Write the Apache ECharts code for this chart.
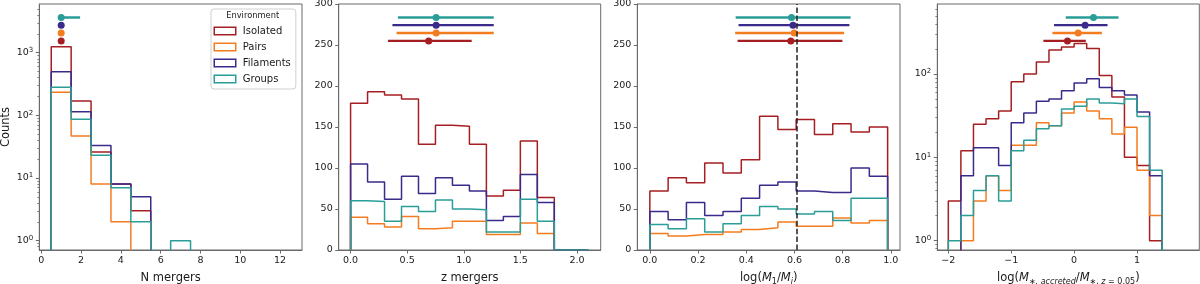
<!DOCTYPE html>
<html><head><meta charset="utf-8">
<script src="https://cdn.jsdelivr.net/npm/echarts@6/dist/echarts.min.js"></script>
<style>html,body{margin:0;padding:0;background:#fff}#c{width:1200px;height:284px}</style>
</head><body><div id="c"></div>
<script>
// ---------------- DATA ----------------
const environments = ['Isolated', 'Pairs', 'Filaments', 'Groups'];

// Panel 1: N mergers (bins of width 1 centred on integers)
const nEdgeStart = 0.5, nBinWidth = 1, nBinCount = 12;
const nIsolated  = [1242, 169, 26, 8, 3, 0, 0, 0, 0, 0, 0, 0];
const nPairs     = [233, 47, 8, 2, 0, 0, 0, 0, 0, 0, 0, 0];
const nFilaments = [496, 114, 33, 8, 5, 0, 0, 0, 0, 0, 0, 0];
const nGroups    = [280, 87, 23, 7, 2, 0, 1, 0, 0, 0, 0, 0];
// [median, low, high]
const nStats = [[1, 1, 1], [1, 1, 1], [1, 1, 1], [1, 1, 1.95]];
const nTicks = [0, 2, 4, 6, 8, 10, 12];

// Panel 2: z mergers
const zEdgeStart = 0, zBinWidth = 0.15, zBinCount = 14;
const zIsolated  = [179, 193, 189, 184, 129, 152, 151, 129, 66, 73, 133, 64, 0, 0];
const zPairs     = [40, 32, 28, 41, 26, 27, 35, 35, 19, 19, 33, 20, 0, 0];
const zFilaments = [105, 83, 62, 90, 69, 88, 79, 72, 36, 41, 92, 58, 0, 0];
const zGroups    = [60, 59, 35, 53, 47, 61, 50, 49, 22, 22, 62, 35, 0, 0];
const zStats = [[0.69, 0.33, 1.07], [0.756, 0.406, 1.265], [0.756, 0.37, 1.265], [0.756, 0.418, 1.265]];
const zTicks = [0, 0.5, 1.0, 1.5, 2.0];

// Panel 3: log(M1/Mi)
const rEdgeStart = 0, rBinWidth = 0.0759, rBinCount = 13;
const rIsolated  = [72, 88, 82, 106, 94, 110, 163, 147, 159, 141, 154, 144, 150];
const rPairs     = [20, 17, 19, 19, 22, 25, 27, 34, 29, 29, 39, 33, 36];
const rFilaments = [47, 37, 58, 42, 47, 63, 79, 83, 72, 70, 70, 100, 90];
const rGroups    = [31, 26, 38, 22, 32, 42, 53, 50, 44, 47, 36, 63, 63];
const rStats = [[0.585, 0.364, 0.799], [0.599, 0.354, 0.806], [0.594, 0.368, 0.828], [0.588, 0.356, 0.833]];
const rThreshold = 0.607;
const rTicks = [0, 0.2, 0.4, 0.6, 0.8, 1.0];

// Panel 4: log(M*,accreted / M*,z=0.05)
const aEdgeStart = -2, aBinWidth = 0.2, aBinCount = 17;
const aIsolated  = [3, 12, 25, 29, 36, 81, 100, 139, 194, 211, 233, 203, 96, 53, 10, 8, 1];
const aPairs     = [0, 1, 3, 6, 4, 14, 14, 26, 24, 34, 46, 36, 29, 19, 23, 7, 2];
const aFilaments = [0, 6, 13, 13, 8, 26, 34, 47, 50, 63, 78, 88, 69, 63, 56, 35, 6];
const aGroups    = [1, 2, 4, 6, 3, 12, 16, 22, 24, 38, 41, 50, 45, 44, 50, 31, 7];
const aStats = [[-0.106, -0.489, 0.186], [0.064, -0.345, 0.441], [0.175, -0.319, 0.531], [0.308, -0.133, 0.706]];
const aTicks = [-2, -1, 0, 1];

const logYTicks1 = [1, 10, 100, 1000];
const logYTicks4 = [1, 10, 100];
const linYTicks = [0, 50, 100, 150, 200, 250, 300];

// ---------------- STYLE / LAYOUT ----------------
const FONT = 'DejaVu Sans';
const TXT = '#1a1a1a';
const SPINE = '#6a6a6a';
const COLORS = ['#a51e22', '#f47c20', '#3a2a8a', '#2a9d98'];
const ERR_LEVELS = [0.850, 0.882, 0.914, 0.945]; // axis fraction per environment

const panels = [
  { grid: {left: 39.3, top: 4, width: 262.7, height: 246}, xMin: -0.1, xMax: 13.1, log: true,
    yMin: Math.pow(10, -0.149), yMax: Math.pow(10, 3.777),
    edges: [nEdgeStart, nBinWidth, nBinCount], counts: [nIsolated, nPairs, nFilaments, nGroups], stats: nStats,
    xTicks: nTicks, yTicks: logYTicks1, xFmt: v => String(v),
    name: '{n|N mergers}' },
  { grid: {left: 338.7, top: 4, width: 262, height: 246}, xMin: -0.105, xMax: 2.21, log: false, yMin: 0, yMax: 300,
    edges: [zEdgeStart, zBinWidth, zBinCount], counts: [zIsolated, zPairs, zFilaments, zGroups], stats: zStats,
    xTicks: zTicks, yTicks: linYTicks, xFmt: v => v.toFixed(1),
    name: '{n|z mergers}' },
  { grid: {left: 637.3, top: 4, width: 262.7, height: 246}, xMin: -0.052, xMax: 1.038, log: false, yMin: 0, yMax: 300,
    edges: [rEdgeStart, rBinWidth, rBinCount], counts: [rIsolated, rPairs, rFilaments, rGroups], stats: rStats,
    xTicks: rTicks, yTicks: linYTicks, xFmt: v => v.toFixed(1),
    name: '{n|log(}{i|M}{sub|1}{n|/}{i|M}{subi|i}{n|)}' },
  { grid: {left: 937.3, top: 4, width: 262, height: 246}, xMin: -2.175, xMax: 1.99, log: true,
    yMin: Math.pow(10, -0.112), yMax: Math.pow(10, 2.84),
    edges: [aEdgeStart, aBinWidth, aBinCount], counts: [aIsolated, aPairs, aFilaments, aGroups], stats: aStats,
    xTicks: aTicks, yTicks: logYTicks4, xFmt: v => (v < 0 ? '\u2212' + Math.abs(v) : String(v)),
    name: '{n|log(}{i|M}{subi|\u2217, accreted}{n|/}{i|M}{sub|\u2217, }{subi|z}{sub| = 0.05}{n|)}' }
];

// ---------------- BUILD ----------------
function makeEdges(start, w, n) {
  const e = [];
  for (let i = 0; i <= n; i++) e.push(+(start + i * w).toFixed(6));
  return e;
}
function stepPoints(edges, counts, floor) {
  const pts = [[edges[0], floor]];
  counts.forEach((c, i) => {
    const v = c > 0 ? c : floor;
    pts.push([edges[i], v]);
    pts.push([edges[i + 1], v]);
  });
  pts.push([edges[edges.length - 1], floor]);
  return pts;
}
function levelValue(p, frac) {
  if (p.log) {
    const a = Math.log10(p.yMin), b = Math.log10(p.yMax);
    return Math.pow(10, a + frac * (b - a));
  }
  return p.yMin + frac * (p.yMax - p.yMin);
}
function minorLogTicks(lo, hi) {
  const out = [];
  for (let e = -2; e <= 4; e++) for (let m = 2; m <= 9; m++) {
    const v = m * Math.pow(10, e);
    if (v > lo && v < hi) out.push(v);
  }
  return out;
}
function supFmt(v) {
  const e = Math.round(Math.log10(v));
  return '{b|10}{s|' + e + '}';
}

const richName = {
  n: {fontSize: 11.5, fontFamily: FONT, color: TXT, lineHeight: 15},
  i: {fontSize: 11.5, fontFamily: FONT, color: TXT, fontStyle: 'italic', lineHeight: 15},
  sub: {fontSize: 8, fontFamily: FONT, color: TXT, lineHeight: 9, verticalAlign: 'bottom'},
  subi: {fontSize: 8, fontFamily: FONT, color: TXT, fontStyle: 'italic', lineHeight: 9, verticalAlign: 'bottom'}
};
const richSup = {
  b: {fontSize: 9.5, fontFamily: FONT, color: TXT, lineHeight: 12},
  s: {fontSize: 7, fontFamily: FONT, color: TXT, lineHeight: 7, verticalAlign: 'top'}
};

const grid = [], xAxis = [], yAxis = [], series = [];
panels.forEach((p, pi) => {
  grid.push(Object.assign({show: true, borderColor: SPINE, borderWidth: 1, backgroundColor: 'transparent',
    containLabel: false, outerBoundsMode: 'none'}, p.grid));
  xAxis.push({
    type: 'value', gridIndex: pi, min: p.xMin, max: p.xMax, position: 'bottom',
    name: p.name, nameLocation: 'middle', nameGap: 15,
    nameTextStyle: {fontSize: 11.5, fontFamily: FONT, color: TXT, lineHeight: 15, rich: richName},
    axisLine: {show: true, onZero: false, lineStyle: {color: SPINE, width: 1}},
    axisTick: {show: true, length: 3.5, lineStyle: {color: SPINE, width: 1}, customValues: p.xTicks},
    axisLabel: {fontSize: 9.5, fontFamily: FONT, color: TXT, margin: 6, customValues: p.xTicks, formatter: p.xFmt},
    splitLine: {show: false}
  });
  yAxis.push({
    type: p.log ? 'log' : 'value', gridIndex: pi, min: p.yMin, max: p.yMax, position: 'left',
    name: pi === 0 ? 'Counts' : '', nameLocation: 'middle', nameGap: 27, nameRotate: 90,
    nameTextStyle: {fontSize: 11.5, fontFamily: FONT, color: TXT},
    axisLine: {show: true, onZero: false, lineStyle: {color: SPINE, width: 1}},
    axisTick: {show: true, length: 3.5, lineStyle: {color: SPINE, width: 1}, customValues: p.yTicks},
    axisLabel: p.log
      ? {customValues: p.yTicks, formatter: supFmt, rich: richSup, margin: 6, color: TXT}
      : {customValues: p.yTicks, fontSize: 9.5, fontFamily: FONT, color: TXT, margin: 6},
    splitLine: {show: false}
  });
});
// minor tick axes for log panels
panels.forEach((p, pi) => {
  if (!p.log) return;
  p.minorAxis = yAxis.length;
  yAxis.push({
    type: 'log', gridIndex: pi, min: p.yMin, max: p.yMax, position: 'left', offset: 0,
    axisLine: {show: false, onZero: false},
    axisTick: {show: true, length: 2, lineStyle: {color: SPINE, width: 0.8}, customValues: minorLogTicks(p.yMin, p.yMax)},
    axisLabel: {show: false}, splitLine: {show: false}
  });
});

panels.forEach((p, pi) => {
  const edges = makeEdges(p.edges[0], p.edges[1], p.edges[2]);
  const floor = p.log ? 1e-4 : 0;
  p.counts.forEach((counts, k) => {
    series.push({
      type: 'line', name: environments[k], xAxisIndex: pi, yAxisIndex: pi,
      data: stepPoints(edges, counts, floor), symbol: 'none', showSymbol: false, clip: true,
      lineStyle: {color: COLORS[k], width: 1.5}, itemStyle: {color: COLORS[k]},
      z: 2, silent: true, animation: false
    });
  });
  p.stats.forEach((s, k) => {
    const y = levelValue(p, ERR_LEVELS[k]);
    series.push({
      type: 'line', name: environments[k], xAxisIndex: pi, yAxisIndex: pi,
      data: [[s[1], y], [s[2], y]], symbol: 'none', showSymbol: false,
      lineStyle: {color: COLORS[k], width: 2.4}, itemStyle: {color: COLORS[k]},
      z: 3, silent: true, animation: false
    });
    series.push({
      type: 'scatter', name: environments[k], xAxisIndex: pi, yAxisIndex: pi,
      data: [[s[0], y]], symbol: 'circle', symbolSize: 7,
      itemStyle: {color: COLORS[k], opacity: 1}, z: 4, silent: true, animation: false
    });
  });
  if (pi === 2) {
    series.push({
      type: 'scatter', name: 'threshold', xAxisIndex: pi, yAxisIndex: pi, data: [], z: 5, silent: true,
      markLine: {
        silent: true, symbol: ['none', 'none'], animation: false, label: {show: false},
        lineStyle: {color: '#222', width: 1.5, type: [5.5, 2.4]},
        data: [{xAxis: rThreshold}]
      }
    });
  }
});

const chart = echarts.init(document.getElementById('c'), null, {renderer: 'canvas'});
chart.setOption({
  animation: false,
  backgroundColor: '#fff',
  grid, xAxis, yAxis, series,
  legend: {
    selectedMode: false, orient: 'vertical', left: 211, top: 9,
    padding: [16, 5, 4, 2.5], itemWidth: 21.5, itemHeight: 7.5, itemGap: 4,
    backgroundColor: '#fff', borderColor: '#d0d0d0', borderWidth: 1, borderRadius: 3,
    textStyle: {fontSize: 10, fontFamily: FONT, color: TXT, lineHeight: 12, padding: [0, 0, 0, 2]},
    data: environments.map((n, i) => ({
      name: n, icon: 'rect',
      itemStyle: {color: 'rgba(0,0,0,0)', borderColor: COLORS[i], borderWidth: 1.5}
    }))
  },
  graphic: [{
    type: 'text', x: 252.7, y: 16, z: 100,
    style: {text: 'Environment', fontSize: 8.3, fontFamily: FONT, fill: TXT, align: 'center', verticalAlign: 'middle'}
  }]
});
</script></body></html>
